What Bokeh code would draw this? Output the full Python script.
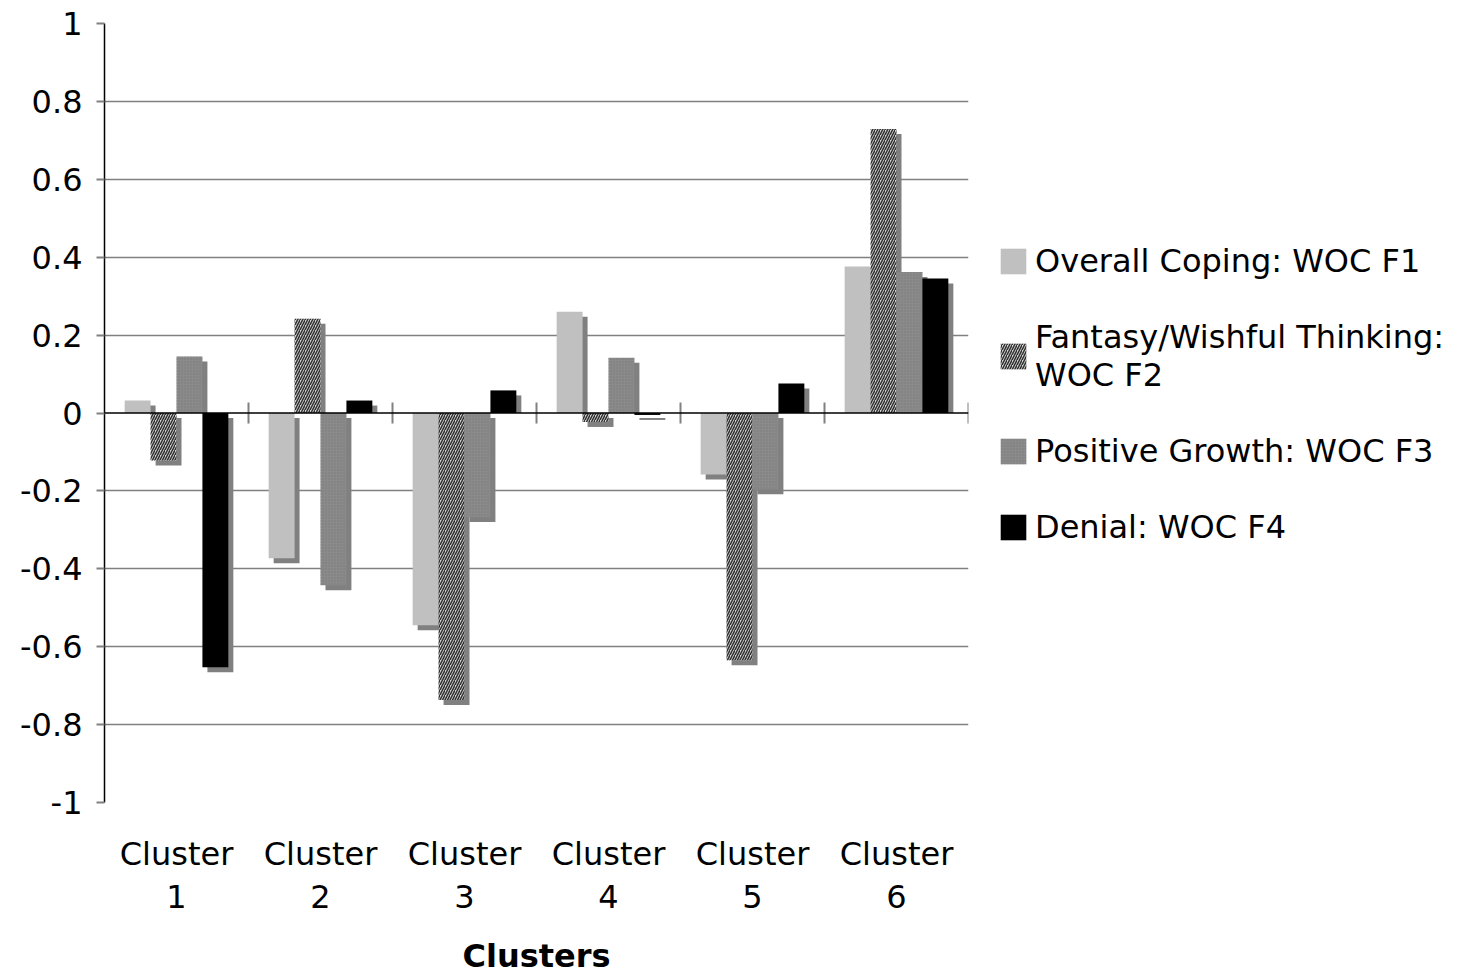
from bokeh.plotting import figure
from bokeh.models import (Range1d, FixedTicker, CustomJSTickFormatter, Legend, LegendItem, Span)
from bokeh.embed import file_html
from bokeh.resources import INLINE

# ---- data ----
clusters = ["Cluster 1", "Cluster 2", "Cluster 3", "Cluster 4", "Cluster 5", "Cluster 6"]
x_labels = ["Cluster\n1", "Cluster\n2", "Cluster\n3", "Cluster\n4", "Cluster\n5", "Cluster\n6"]
series_names = ["Overall Coping: WOC F1", "Fantasy/Wishful Thinking:\nWOC F2",
                "Positive Growth: WOC F3", "Denial: WOC F4"]
f1 = [0.032, -0.373, -0.545, 0.260, -0.158, 0.376]
f2 = [-0.122, 0.242, -0.737, -0.023, -0.635, 0.729]
f3 = [0.145, -0.442, -0.267, 0.142, -0.196, 0.362]
f4 = [-0.653, 0.032, 0.058, -0.005, 0.076, 0.345]
y_ticks = [-1, -0.8, -0.6, -0.4, -0.2, 0, 0.2, 0.4, 0.6, 0.8, 1]
grid_ticks = [-0.8, -0.6, -0.4, -0.2, 0.2, 0.4, 0.6, 0.8]

series = [f1, f2, f3, f4]
styles = [
    dict(fill_color="#c0c0c0"),
    dict(fill_color="#d4d4d4", hatch_pattern="/", hatch_color="#303030", hatch_scale=5, hatch_weight=1.5),
    dict(fill_color="#8a8a8a", hatch_pattern=".", hatch_color="#7a7a7a", hatch_scale=3, hatch_weight=1),
    dict(fill_color="#000000"),
]

FONT = "DejaVu Sans"
n = len(clusters)
frame_w, frame_h = 864, 779

p = figure(width=1450, height=970, output_backend="svg", toolbar_location=None,
           x_range=Range1d(0, n), y_range=Range1d(-1, 1))
p.frame_width = frame_w
p.frame_height = frame_h
p.min_border_left = 104
p.min_border_top = 23
p.min_border_right = 480
p.min_border_bottom = 40
p.outline_line_color = None
p.background_fill_color = "white"

bw = 0.18
dx = 5.0 / (frame_w / n)
dy = 5.0 / (frame_h / 2.0)
centers = [i + 0.5 for i in range(n)]

# shadows first
for k, vals in enumerate(series):
    off = (k - 1.5) * bw
    left = [c + off - bw / 2 + dx for c in centers]
    right = [c + off + bw / 2 + dx for c in centers]
    top = [v - dy if v > 0 else -dy for v in vals]
    bottom = [0 if v > 0 else v - dy for v in vals]
    p.quad(left=left, right=right, top=top, bottom=bottom,
           fill_color="#808080", line_color=None)

bars = []
for k, vals in enumerate(series):
    off = (k - 1.5) * bw
    xs = [c + off for c in centers]
    r = p.vbar(x=xs, top=vals, bottom=0, width=bw, line_color=None, **styles[k])
    bars.append(r)

# zero line and category ticks
p.add_layout(Span(location=0, dimension="width", line_color="#000000", line_width=1.5))
bounds = [i + 1 for i in range(n)]
p.segment(x0=bounds, x1=bounds, y0=[-0.027] * n, y1=[0.027] * n,
          line_color="#808080", line_width=2)

# y axis
p.yaxis.ticker = FixedTicker(ticks=y_ticks)
p.yaxis.formatter = CustomJSTickFormatter(code="return tick.toFixed(1).replace(/\\.0$/, '').replace(/^-0$/, '0');")
p.yaxis.major_tick_out = 8
p.yaxis.major_tick_in = 0
p.yaxis.minor_tick_line_color = None
p.yaxis.major_tick_line_color = "#808080"
p.yaxis.major_tick_line_width = 2
p.yaxis.axis_line_color = "#000000"
p.yaxis.axis_line_width = 1.5
p.yaxis.major_label_text_font = FONT
p.yaxis.major_label_text_font_size = "32px"
p.yaxis.major_label_text_color = "#000000"
p.yaxis.major_label_standoff = 14

# x axis
p.xaxis.ticker = FixedTicker(ticks=centers)
p.xaxis.major_label_overrides = {c: lab for c, lab in zip(centers, x_labels)}
p.xaxis.axis_line_color = None
p.xaxis.major_tick_line_color = None
p.xaxis.minor_tick_line_color = None
p.xaxis.major_tick_out = 0
p.xaxis.major_label_text_font = FONT
p.xaxis.major_label_text_font_size = "32px"
p.xaxis.major_label_text_color = "#000000"
p.xaxis.major_label_text_line_height = 1.14
p.xaxis.major_label_standoff = 32
p.xaxis.axis_label = "Clusters"
p.xaxis.axis_label_text_font = FONT
p.xaxis.axis_label_text_font_size = "32px"
p.xaxis.axis_label_text_font_style = "bold"
p.xaxis.axis_label_text_color = "#000000"
p.xaxis.axis_label_standoff = 18

# grid
p.xgrid.grid_line_color = None
p.ygrid.ticker = FixedTicker(ticks=grid_ticks)
p.ygrid.grid_line_color = "#808080"
p.ygrid.grid_line_width = 1.5

legend = Legend(items=[LegendItem(label=series_names[k], renderers=[bars[k]]) for k in range(4)],
                location=(29, 256))
legend.padding = 0
legend.margin = 0
legend.border_line_alpha = 0
legend.background_fill_alpha = 0
legend.glyph_width = 32
legend.glyph_height = 32
legend.label_standoff = 6
legend.spacing = 38
legend.label_text_font = FONT
legend.label_text_font_size = "32px"
legend.label_text_color = "#000000"
legend.label_height = 26
p.add_layout(legend, "right")

open("out.html", "w").write(file_html(p, INLINE))
